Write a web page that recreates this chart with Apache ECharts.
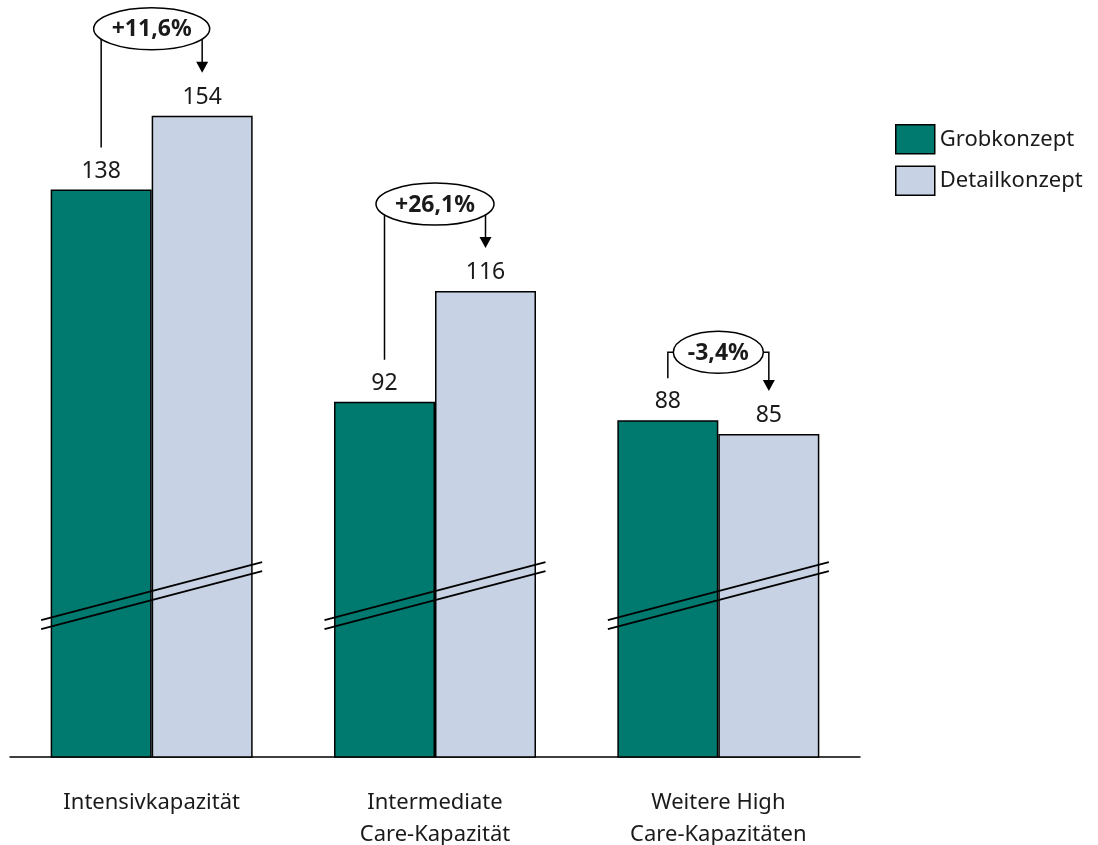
<!DOCTYPE html>
<html>
<head>
<meta charset="utf-8">
<script src="https://cdn.jsdelivr.net/npm/echarts@6/dist/echarts.min.js"></script>
<style>
  html, body { margin: 0; padding: 0; background: #fff; }
  #chart { width: 1098px; height: 845px; }
</style>
</head>
<body>
<div id="chart"></div>
<script>
// Capacity figures: rough concept vs. detailed concept
const categories = ['Intensivkapazität', 'Intermediate\nCare-Kapazität', 'Weitere High\nCare-Kapazitäten'];
const seriesNames = ['Grobkonzept', 'Detailkonzept'];
const grobkonzept = [138, 92, 88];
const detailkonzept = [154, 116, 85];

// value axis is truncated; the break symbol sits at this value
const axisMin = 15;
const axisMax = 170;
const breakValue = 50;

const FONT = '"Noto Sans", "Open Sans", sans-serif';
const TEXT = '#1a1a1a';
const GREEN = '#00796F';
const BLUE = '#C7D2E4';
const BAR_W = 101;

const chart = echarts.init(document.getElementById('chart'), null, { renderer: 'canvas' });

const barStyle = (color) => ({ color, borderColor: '#000', borderWidth: 1.5 });
const valueLabel = {
  show: true, position: 'top', distance: 7,
  fontFamily: FONT, fontSize: 23, color: TEXT
};

chart.setOption({
  animation: false,
  backgroundColor: '#fff',
  grid: {
    left: 10, right: 238, top: 42, bottom: 88,
    containLabel: false, outerBoundsMode: 'none'
  },
  legend: {
    orient: 'vertical', left: 890, top: 119,
    itemWidth: 39, itemHeight: 29, itemGap: 11,
    icon: 'rect',
    itemStyle: { borderColor: '#000', borderWidth: 1.5 },
    textStyle: { fontFamily: FONT, fontSize: 22, color: TEXT },
    data: seriesNames
  },
  xAxis: {
    type: 'category',
    data: categories,
    axisLine: { lineStyle: { color: '#000', width: 1.5 } },
    axisTick: { show: false },
    axisLabel: {
      fontFamily: FONT, fontSize: 22, color: TEXT,
      lineHeight: 32, margin: 30, interval: 0
    }
  },
  yAxis: {
    type: 'value', min: axisMin, max: axisMax, show: false,
    splitLine: { show: false }
  },
  series: [
    {
      name: seriesNames[0], type: 'bar', data: grobkonzept,
      barWidth: BAR_W, barGap: '0%',
      itemStyle: barStyle(GREEN), label: valueLabel
    },
    {
      name: seriesNames[1], type: 'bar', data: detailkonzept,
      barWidth: BAR_W, barGap: '0%',
      itemStyle: barStyle(BLUE), label: valueLabel
    }
  ]
});

// change annotations and axis-break marks, positioned through the chart's scales
const ellipseRx = [58, 59, 45];
const ellipseLift = [87, 87, 68];

function pctText(a, b) {
  const p = (b - a) / a * 100;
  return (p > 0 ? '+' : '') + p.toFixed(1).replace('.', ',') + '%';
}

function buildOverlay() {
  const g = [];
  const yPx = v => chart.convertToPixel({ yAxisIndex: 0 }, v);
  const xPx = i => chart.convertToPixel({ xAxisIndex: 0 }, i);
  const slope = 58 / 221;
  const half = 110.5;

  categories.forEach((c, i) => {
    const cx = xPx(i);
    const xl = cx - BAR_W / 2;
    const xr = cx + BAR_W / 2;
    const topL = yPx(grobkonzept[i]);
    const topR = yPx(detailkonzept[i]);
    const endL = topL - 42;
    const tipR = topR - 43;
    const cy = Math.min(topL, topR) - ellipseLift[i];

    g.push({
      type: 'polyline', z: 10,
      shape: { points: [[xl, endL], [xl, cy], [xr, cy], [xr, tipR - 10]] },
      style: { stroke: '#000', lineWidth: 1.5, fill: null }
    });
    g.push({
      type: 'polygon', z: 10,
      shape: { points: [[xr - 6, tipR - 11], [xr + 6, tipR - 11], [xr, tipR]] },
      style: { fill: '#000' }
    });
    g.push({
      type: 'ellipse', z: 11,
      shape: { cx: cx, cy: cy, rx: ellipseRx[i], ry: 21 },
      style: { fill: '#fff', stroke: '#000', lineWidth: 1.5 }
    });
    g.push({
      type: 'text', z: 12, x: cx, y: cy + 1,
      style: {
        text: pctText(grobkonzept[i], detailkonzept[i]),
        font: 'bold 23px ' + FONT, fill: TEXT,
        align: 'center', verticalAlign: 'middle'
      }
    });

    const by = yPx(breakValue);
    [-4.5, 4.5].forEach(off => {
      g.push({
        type: 'line', z: 9,
        shape: {
          x1: cx - half, y1: by + off + half * slope,
          x2: cx + half, y2: by + off - half * slope
        },
        style: { stroke: '#000', lineWidth: 1.8 }
      });
    });
  });

  chart.setOption({ graphic: g });
}

buildOverlay();
</script>
</body>
</html>
